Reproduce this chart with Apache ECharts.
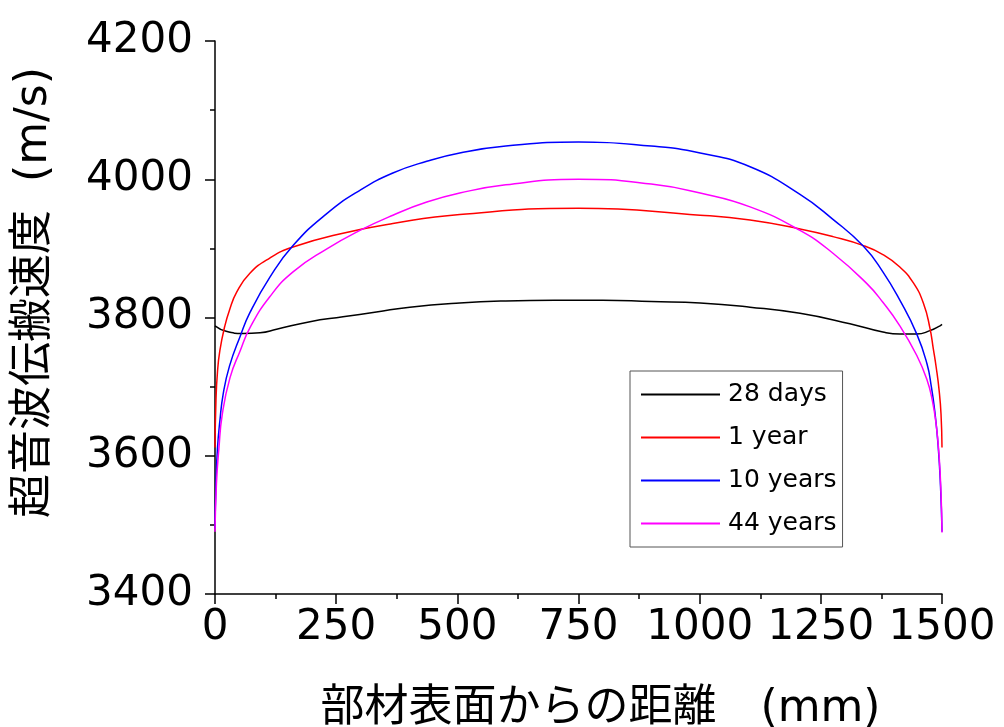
<!DOCTYPE html>
<html><head><meta charset="utf-8">
<script src="https://cdn.jsdelivr.net/npm/echarts@6/dist/echarts.min.js"></script>
<style>html,body{margin:0;padding:0;background:#fff}#c{width:1004px;height:727px}</style>
</head><body><div id="c"></div>
<script>
const seriesNames = ['28 days', '1 year', '10 years', '44 years'];
const seriesColors = ['#000000', '#ff0000', '#0000ff', '#ff00ff'];
const xTicks = [0, 250, 500, 750, 1000, 1250, 1500];
const yTicks = [3400, 3600, 3800, 4000, 4200];

const days28 = [[0,3788],[23,3780],[58,3777],[93,3778],[127,3783],[196,3794],[264,3801],[333,3808],[402,3815],[505,3821],[600,3824],[700,3825],[800,3825],[900,3823],[1001,3821],[1104,3815],[1207,3806],[1310,3791],[1378,3779],[1413,3776],[1448,3776],[1475,3781],[1496,3788],[1500,3790]];
const year1 = [[0,3612],[2,3680],[5,3720],[10,3752],[20,3787],[30,3811],[45,3837],[72,3864],[113,3886],[161,3902],[264,3922],[367,3936],[505,3949],[750,3958],[1001,3948],[1104,3941],[1207,3928],[1275,3917],[1338,3904],[1378,3891],[1413,3873],[1441,3850],[1462,3820],[1475,3785],[1482,3755],[1488,3728],[1494,3695],[1498,3660],[1500,3612]];
const years10 = [[0,3495],[2,3560],[5,3610],[10,3650],[17,3690],[30,3730],[52,3773],[72,3807],[113,3858],[161,3904],[230,3950],[299,3984],[367,4009],[437,4026],[505,4038],[600,4048],[750,4054],[900,4048],[1001,4038],[1104,4018],[1207,3978],[1275,3942],[1338,3903],[1378,3866],[1413,3825],[1448,3776],[1469,3733],[1478,3700],[1485,3665],[1492,3615],[1497,3555],[1500,3490]];
const years44 = [[0,3490],[3,3560],[8,3610],[15,3660],[31,3713],[52,3752],[72,3785],[113,3830],[161,3866],[230,3899],[299,3926],[367,3948],[437,3967],[505,3980],[600,3992],[750,4000],[900,3993],[1001,3980],[1104,3960],[1207,3926],[1275,3893],[1345,3849],[1378,3822],[1413,3788],[1448,3745],[1469,3710],[1480,3680],[1488,3645],[1494,3600],[1498,3545],[1500,3489]];
const allData = [days28, year1, years10, years44];

const FONT = "'DejaVu Sans', 'Noto Sans CJK JP', sans-serif";
const chart = echarts.init(document.getElementById('c'), null, {renderer: 'canvas'});
chart.setOption({
  animation: false,
  backgroundColor: '#fff',
  grid: {left: 215, right: 62, top: 41, bottom: 133, containLabel: false, outerBoundsMode: 'none'},
  legend: {
    orient: 'vertical', left: 630, top: 371,
    padding: [11, 6, 11, 11],
    borderColor: '#555', borderWidth: 1,
    itemWidth: 79, itemHeight: 2, itemGap: 18,
    icon: 'rect',
    textStyle: {fontFamily: FONT, fontSize: 25, color: '#000', lineHeight: 25, padding: [0,0,0,3]},
    data: seriesNames
  },
  xAxis: {
    type: 'value', min: 0, max: 1500, interval: 250,
    name: '部材表面からの距離　(mm)', nameLocation: 'middle', nameGap: 94,
    nameTextStyle: {fontFamily: FONT, fontSize: 44, color: '#000', padding: [0,0,0,44]},
    axisLine: {show: true, lineStyle: {color: '#000', width: 1.5}},
    axisTick: {show: true, inside: false, length: 10, lineStyle: {color: '#000', width: 1.5}},
    minorTick: {show: true, splitNumber: 2, length: 5, lineStyle: {color: '#000', width: 1.5}},
    axisLabel: {fontFamily: FONT, fontSize: 42, color: '#000', margin: 13,
      formatter: v => xTicks.includes(v) ? String(v) : ''},
    splitLine: {show: false}
  },
  yAxis: {
    type: 'value', min: 3400, max: 4200, interval: 200,
    name: '超音波伝搬速度  (m/s)', nameLocation: 'middle', nameGap: 158, nameRotate: 90,
    nameTextStyle: {fontFamily: FONT, fontSize: 44, color: '#000', padding: [0,0,0,50]},
    axisLine: {show: true, lineStyle: {color: '#000', width: 1.5}},
    axisTick: {show: true, inside: false, length: 10, lineStyle: {color: '#000', width: 1.5}},
    minorTick: {show: true, splitNumber: 2, length: 5, lineStyle: {color: '#000', width: 1.5}},
    axisLabel: {fontFamily: FONT, fontSize: 42, color: '#000', margin: 22,
      formatter: v => yTicks.includes(v) ? String(v) : ''},
    splitLine: {show: false}
  },
  series: seriesNames.map((n, i) => ({
    name: n, type: 'line', data: allData[i],
    smooth: 0.5,
    showSymbol: false, symbol: 'none',
    lineStyle: {color: seriesColors[i], width: 1.5},
    itemStyle: {color: seriesColors[i]}
  }))
});
</script></body></html>
